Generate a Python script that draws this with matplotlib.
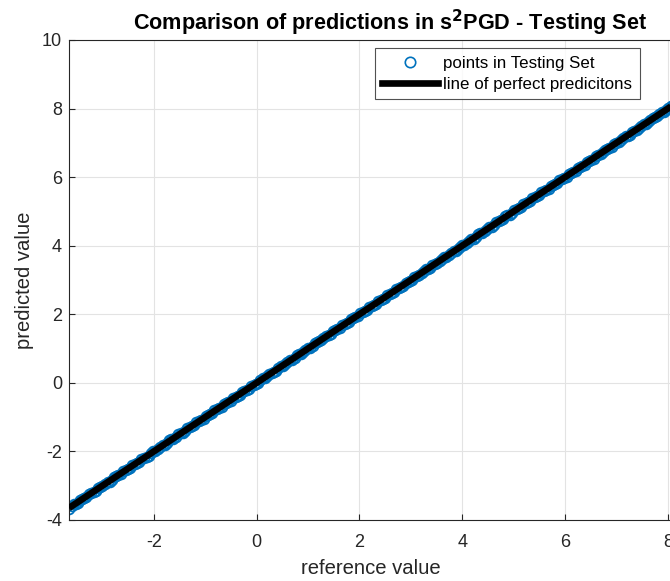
import matplotlib
matplotlib.use("Agg")
import matplotlib.pyplot as plt
from matplotlib.lines import Line2D

plt.rcParams['font.family'] = ['Liberation Sans', 'DejaVu Sans']
plt.rcParams['axes.unicode_minus'] = False

# Testing set, first batch
reference_a = [
    -3.65, -3.56, -3.47, -3.40, -3.31, -3.22, -3.12, -3.05, -2.95, -2.86,
    -2.78, -2.69, -2.60, -2.50, -2.42, -2.33, -2.25, -2.14, -2.06, -1.97,
    -1.88, -1.79, -1.70, -1.62, -1.52, -1.44, -1.35, -1.26, -1.17, -1.08,
    -0.99, -0.91, -0.82, -0.73, -0.63, -0.55, -0.46, -0.37, -0.29, -0.19,
    -0.11, -0.02, 0.07, 0.16, 0.25, 0.33, 0.42, 0.51, 0.60, 0.69,
    0.78, 0.86, 0.95, 1.04, 1.13, 1.22, 1.30, 1.40, 1.48, 1.57,
    1.66, 1.75, 1.84, 1.92, 2.01, 2.10, 2.19, 2.28, 2.37, 2.45,
    2.54, 2.63, 2.72, 2.81, 2.90, 2.98, 3.07, 3.16, 3.25, 3.34,
    3.42, 3.51, 3.60, 3.69, 3.78, 3.87, 3.95, 4.04, 4.13, 4.22,
    4.31, 4.39, 4.48, 4.57, 4.66, 4.75, 4.84, 4.92, 5.01, 5.10,
    5.19, 5.28, 5.36, 5.45, 5.54, 5.63, 5.72, 5.81, 5.89, 5.98,
    6.07, 6.16, 6.25, 6.33, 6.42, 6.51, 6.60, 6.69, 6.78, 6.86,
    6.95, 7.04, 7.13, 7.22, 7.30, 7.39, 7.48, 7.57, 7.66, 7.75,
    7.83, 7.92, 8.01, 8.10, 8.19, 8.28,
]
predicted_a = [
    -3.67, -3.54, -3.49, -3.38, -3.32, -3.20, -3.14, -3.03, -2.96, -2.88,
    -2.76, -2.70, -2.58, -2.52, -2.40, -2.34, -2.23, -2.16, -2.04, -1.98,
    -1.86, -1.80, -1.68, -1.63, -1.50, -1.45, -1.33, -1.27, -1.15, -1.09,
    -0.97, -0.92, -0.80, -0.74, -0.61, -0.56, -0.44, -0.38, -0.27, -0.20,
    -0.09, -0.03, 0.09, 0.15, 0.27, 0.32, 0.44, 0.50, 0.62, 0.68,
    0.80, 0.85, 0.97, 1.03, 1.15, 1.21, 1.32, 1.39, 1.50, 1.56,
    1.68, 1.74, 1.86, 1.91, 2.03, 2.09, 2.21, 2.27, 2.39, 2.44,
    2.56, 2.62, 2.74, 2.80, 2.92, 2.97, 3.09, 3.15, 3.27, 3.33,
    3.44, 3.50, 3.62, 3.68, 3.80, 3.86, 3.97, 4.03, 4.15, 4.21,
    4.33, 4.38, 4.50, 4.56, 4.68, 4.74, 4.86, 4.91, 5.03, 5.09,
    5.21, 5.27, 5.38, 5.44, 5.56, 5.62, 5.74, 5.80, 5.91, 5.97,
    6.09, 6.15, 6.27, 6.32, 6.44, 6.50, 6.62, 6.68, 6.80, 6.85,
    6.97, 7.03, 7.15, 7.21, 7.32, 7.38, 7.50, 7.56, 7.68, 7.74,
    7.85, 7.91, 8.03, 8.09, 8.21, 8.27,
]

# Testing set, second batch
reference_b = [
    -3.60, -3.51, -3.43, -3.35, -3.26, -3.17, -3.08, -3.00, -2.90, -2.82,
    -2.73, -2.64, -2.55, -2.46, -2.37, -2.29, -2.19, -2.10, -2.01, -1.92,
    -1.83, -1.74, -1.66, -1.57, -1.48, -1.39, -1.30, -1.21, -1.12, -1.03,
    -0.95, -0.86, -0.77, -0.68, -0.59, -0.50, -0.41, -0.33, -0.24, -0.15,
    -0.06, 0.03, 0.12, 0.21, 0.29, 0.38, 0.47, 0.56, 0.65, 0.74,
    0.82, 0.91, 1.00, 1.09, 1.18, 1.26, 1.35, 1.44, 1.53, 1.62,
    1.71, 1.80, 1.88, 1.97, 2.06, 2.15, 2.24, 2.32, 2.41, 2.50,
    2.59, 2.68, 2.77, 2.85, 2.94, 3.03, 3.12, 3.21, 3.30, 3.38,
    3.47, 3.56, 3.65, 3.74, 3.83, 3.91, 4.00, 4.09, 4.18, 4.27,
    4.35, 4.44, 4.53, 4.62, 4.71, 4.80, 4.88, 4.97, 5.06, 5.15,
    5.24, 5.32, 5.41, 5.50, 5.59, 5.68, 5.77, 5.85, 5.94, 6.03,
    6.12, 6.21, 6.29, 6.38, 6.47, 6.56, 6.65, 6.74, 6.82, 6.91,
    7.00, 7.09, 7.18, 7.26, 7.35, 7.44, 7.53, 7.62, 7.71, 7.79,
    7.88, 7.97, 8.06, 8.15, 8.24,
]
predicted_b = [
    -3.59, -3.53, -3.42, -3.37, -3.25, -3.19, -3.07, -3.02, -2.89, -2.84,
    -2.72, -2.66, -2.54, -2.48, -2.36, -2.31, -2.18, -2.12, -2.00, -1.94,
    -1.82, -1.76, -1.65, -1.59, -1.47, -1.41, -1.29, -1.23, -1.11, -1.05,
    -0.94, -0.88, -0.76, -0.70, -0.58, -0.52, -0.40, -0.35, -0.23, -0.17,
    -0.05, 0.01, 0.13, 0.19, 0.30, 0.36, 0.48, 0.54, 0.66, 0.72,
    0.83, 0.89, 1.01, 1.07, 1.19, 1.24, 1.36, 1.42, 1.54, 1.60,
    1.72, 1.78, 1.89, 1.95, 2.07, 2.13, 2.25, 2.30, 2.42, 2.48,
    2.60, 2.66, 2.78, 2.83, 2.95, 3.01, 3.13, 3.19, 3.31, 3.36,
    3.48, 3.54, 3.66, 3.72, 3.84, 3.89, 4.01, 4.07, 4.19, 4.25,
    4.36, 4.42, 4.54, 4.60, 4.72, 4.78, 4.89, 4.95, 5.07, 5.13,
    5.25, 5.30, 5.42, 5.48, 5.60, 5.66, 5.78, 5.83, 5.95, 6.01,
    6.13, 6.19, 6.30, 6.36, 6.48, 6.54, 6.66, 6.72, 6.83, 6.89,
    7.01, 7.07, 7.19, 7.24, 7.36, 7.42, 7.54, 7.60, 7.72, 7.77,
    7.89, 7.95, 8.07, 8.14, 8.25,
]

x_limits = [-3.65, 8.10]
y_limits = [-4, 10]
x_ticks = [-2, 0, 2, 4, 6, 8]
y_ticks = [-4, -2, 0, 2, 4, 6, 8, 10]
title_text = r"Comparison of predictions in s$^\mathbf{2}$PGD - Testing Set"
legend_labels = ["points in Testing Set", "line of perfect predicitons"]

blue = "#0072BD"
txt = "#262626"

reference_values = reference_a + reference_b
predicted_values = predicted_a + predicted_b

fig = plt.figure(figsize=(6.70, 5.81), dpi=100)
ax = fig.add_axes([69/670, 1 - 520/581, (673-69)/670, (520-40)/581])

ax.plot(reference_values, predicted_values, 'o', mfc='none', mec=blue,
        ms=7, mew=1.3, zorder=2, clip_on=True)
lo, hi = min(reference_values), max(reference_values)
ax.plot([lo, hi], [lo, hi], color='black', lw=4.8, solid_capstyle='butt', zorder=3)

ax.set_xlim(*x_limits)
ax.set_ylim(*y_limits)
ax.set_xticks(x_ticks)
ax.set_yticks(y_ticks)
ax.grid(True, color='#e3e3e3', lw=0.8)
ax.set_axisbelow(True)
for name, s in ax.spines.items():
    s.set_color(txt)
    s.set_linewidth(0.8)
ax.spines['right'].set_visible(False)
ax.tick_params(direction='in', length=4, colors=txt, labelsize=13, width=0.8,
               top=False, right=False)
ax.tick_params(axis='x', pad=10)
ax.tick_params(axis='y', pad=5)

ax.set_xlabel("reference value", fontsize=14.6, color=txt, labelpad=6)
ax.set_ylabel("predicted value", fontsize=14.6, color=txt, labelpad=6)
ax.set_title(title_text, fontsize=15.6, fontweight='bold', color='black', pad=7,
             x=(390-69)/(673-69))

handles = [
    Line2D([], [], ls='none', marker='o', mfc='none', mec=blue, ms=7.5, mew=1.2),
    Line2D([], [], color='black', lw=4.8),
]
leg = ax.legend(handles, legend_labels, loc='upper right',
                bbox_to_anchor=(640/670, 1 - 48/581), bbox_transform=fig.transFigure,
                fontsize=12.2, frameon=True, fancybox=False, handlelength=3.3,
                handletextpad=0.3, borderpad=0.45, labelspacing=0.35,
                borderaxespad=0)
leg.get_frame().set_edgecolor(txt)
leg.get_frame().set_linewidth(0.8)

fig.savefig("out.png", dpi=100, facecolor='white')
